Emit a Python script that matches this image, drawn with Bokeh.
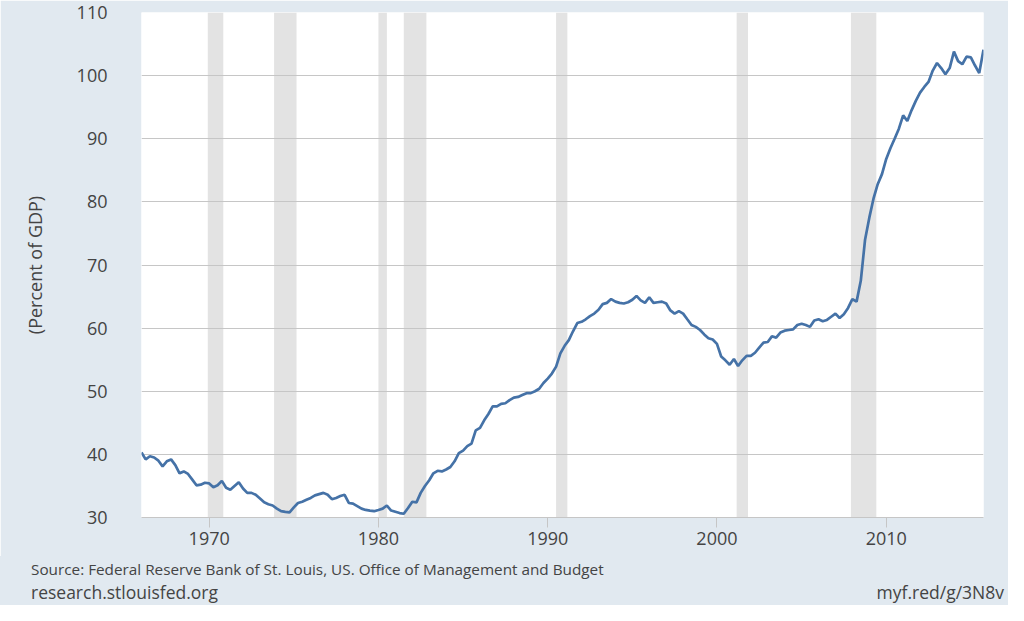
import pandas as pd
from bokeh.plotting import figure
from bokeh.layouts import column
from bokeh.models import ColumnDataSource, BoxAnnotation, FixedTicker, Range1d, Div
from bokeh.embed import file_html
from bokeh.resources import INLINE

# ---------------- data ----------------
start_quarter = "1966-01-01"

debt_1966_1975 = [40.3, 39.2, 39.7, 39.5, 39.0, 38.1, 38.9, 39.2, 38.3, 37.0,
                  37.3, 36.9, 36.0, 35.1, 35.2, 35.5, 35.4, 34.8, 35.1, 35.8,
                  34.7, 34.4, 35.0, 35.6, 34.6, 33.9, 33.9, 33.6, 33.0, 32.4,
                  32.1, 31.9, 31.4, 31.0, 30.9, 30.8, 31.6, 32.3, 32.5, 32.8]
debt_1976_1985 = [33.1, 33.5, 33.7, 33.9, 33.6, 32.9, 33.1, 33.4, 33.6, 32.3,
                  32.2, 31.8, 31.4, 31.2, 31.1, 31.0, 31.2, 31.4, 31.9, 31.1,
                  30.9, 30.7, 30.6, 31.5, 32.5, 32.4, 33.9, 35.0, 35.9, 37.0,
                  37.4, 37.3, 37.6, 38.0, 38.9, 40.2, 40.6, 41.3, 41.7, 43.8]
debt_1986_1995 = [44.2, 45.4, 46.4, 47.6, 47.6, 48.0, 48.1, 48.6, 49.0, 49.1,
                  49.4, 49.7, 49.7, 50.0, 50.4, 51.3, 52.0, 52.8, 53.9, 56.0,
                  57.2, 58.1, 59.5, 60.8, 61.0, 61.4, 61.9, 62.3, 62.9, 63.8,
                  64.0, 64.6, 64.2, 64.0, 63.9, 64.1, 64.5, 65.1, 64.4, 64.0]
debt_1996_2005 = [64.9, 64.0, 64.1, 64.2, 63.9, 62.8, 62.3, 62.7, 62.3, 61.4,
                  60.5, 60.2, 59.7, 59.0, 58.4, 58.2, 57.5, 55.5, 54.9, 54.2,
                  55.1, 54.0, 54.9, 55.6, 55.6, 56.1, 56.9, 57.7, 57.8, 58.7,
                  58.5, 59.3, 59.6, 59.7, 59.8, 60.5, 60.7, 60.5, 60.2, 61.2]
debt_2006_2015 = [61.4, 61.1, 61.3, 61.8, 62.3, 61.6, 62.2, 63.2, 64.6, 64.2,
                  67.5, 74.0, 77.5, 80.5, 82.8, 84.4, 86.8, 88.5, 90.0, 91.6,
                  93.7, 92.8, 94.5, 96.0, 97.3, 98.2, 99.0, 100.8, 102.0, 101.2,
                  100.2, 101.2, 103.8, 102.3, 101.8, 103.0, 102.9, 101.6, 100.4, 104.1]

recession_starts = ["1969-12-01", "1973-11-01", "1980-01-01", "1981-07-01",
                    "1990-07-01", "2001-03-01", "2007-12-01"]
recession_ends = ["1970-11-01", "1975-03-01", "1980-07-01", "1982-11-01",
                  "1991-03-01", "2001-11-01", "2009-06-01"]

tick_years = [1970, 1980, 1990, 2000, 2010]
y_ticks = [30, 40, 50, 60, 70, 80, 90, 100, 110]

y_label = "(Percent of GDP)"
source_text = "Source: Federal Reserve Bank of St. Louis, US. Office of Management and Budget"
left_footer = "research.stlouisfed.org"
right_footer = "myf.red/g/3N8v"

# ---------------- build ----------------
values = debt_1966_1975 + debt_1976_1985 + debt_1986_1995 + debt_1996_2005 + debt_2006_2015
dates = pd.date_range(start_quarter, periods=len(values), freq="QS")
src = ColumnDataSource(dict(date=dates, value=values))

def ms(d):
    return pd.Timestamp(d).value / 1e6

FONT = "Open Sans"
TXT = "#444444"
BG = "#e1e9f0"
W = 1008
MAIN_H = 556
FOOT_H = 49

p = figure(width=W, height=MAIN_H, x_axis_type="datetime",
           output_backend="svg", toolbar_location=None,
           x_range=Range1d(ms(dates[0]), ms(dates[-1])),
           y_range=Range1d(30, 110),
           min_border_left=141, min_border_right=25,
           min_border_top=12, min_border_bottom=MAIN_H - 517)

p.background_fill_color = "white"
p.border_fill_color = BG
p.outline_line_color = None

# recession shading (below grid)
boxes = []
for s, e in zip(recession_starts, recession_ends):
    boxes.append(BoxAnnotation(left=ms(s), right=ms(e), fill_color="#e3e3e3",
                               fill_alpha=1.0, line_color=None, level="underlay"))

p.line("date", "value", source=src, line_color="#4572a7", line_width=2.7)

# grids
p.xgrid.visible = False
p.ygrid.ticker = FixedTicker(ticks=y_ticks)
p.ygrid.grid_line_color = "#c6c6c6"
p.ygrid.grid_line_width = 1

p.center = boxes + list(p.center)

# y axis
yax = p.yaxis[0]
yax.ticker = FixedTicker(ticks=y_ticks)
yax.axis_line_color = None
yax.major_tick_line_color = None
yax.minor_tick_line_color = None
yax.major_tick_out = 0
yax.major_label_standoff = 34
yax.major_label_text_font = FONT
yax.major_label_text_font_size = "18px"
yax.major_label_text_color = TXT
yax.axis_label = y_label
yax.axis_label_text_font = FONT
yax.axis_label_text_font_size = "18px"
yax.axis_label_text_font_style = "normal"
yax.axis_label_text_color = TXT
yax.axis_label_standoff = 27

# x axis
xax = p.xaxis[0]
xtick_ms = [ms(f"{y}-01-01") for y in tick_years]
xax.ticker = FixedTicker(ticks=xtick_ms)
xax.major_label_overrides = {t: str(y) for t, y in zip(xtick_ms, tick_years)}
xax.axis_line_color = "#c6c6c6"
xax.major_tick_line_color = "#c6c6c6"
xax.minor_tick_line_color = None
xax.major_tick_out = 10
xax.major_tick_in = 0
xax.major_label_standoff = 4
xax.major_label_text_font = FONT
xax.major_label_text_font_size = "18px"
xax.major_label_text_color = TXT

# ---------------- footer ----------------
footer_html = (
    f'<div style="position:relative;width:{W}px;height:{FOOT_H}px;background:{BG};'
    f'font-family:\'{FONT}\';color:{TXT};margin:0;padding:0;overflow:hidden;">'
    f'<span style="position:absolute;left:31px;top:3px;font-size:15.3px;line-height:1.362;'
    f'white-space:nowrap;">{source_text}</span>'
    f'<span style="position:absolute;left:31px;top:25px;font-size:17.5px;line-height:1.362;'
    f'white-space:nowrap;">{left_footer}</span>'
    f'<span style="position:absolute;right:4px;top:25px;font-size:17.5px;line-height:1.362;'
    f'white-space:nowrap;">{right_footer}</span>'
    f'</div>'
)
footer = Div(text=footer_html, width=W, height=FOOT_H,
             styles={"margin": "0", "padding": "0", "background-color": BG})

layout = column(p, footer, spacing=0)
open("out.html", "w").write(file_html(layout, INLINE))
